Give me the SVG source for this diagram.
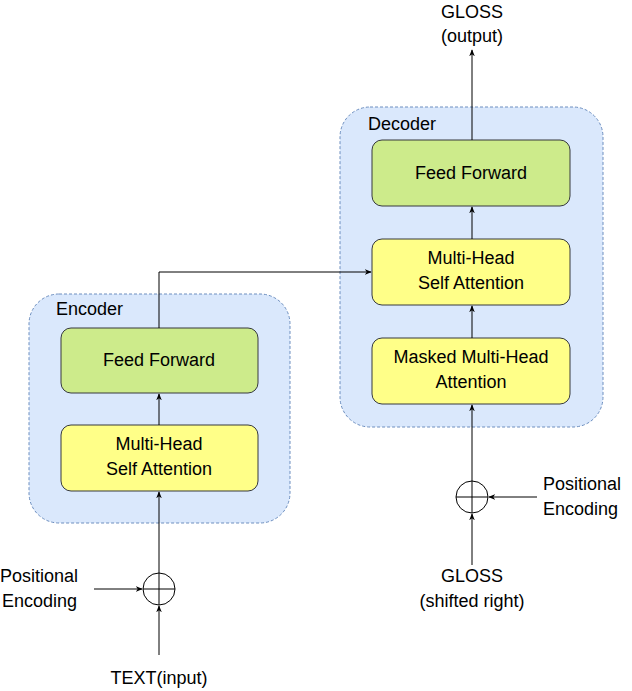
<svg xmlns="http://www.w3.org/2000/svg" width="632" height="691" viewBox="0 0 632 691">
<style>
text{font-family:"Liberation Sans",Arial,sans-serif;font-size:18px;fill:#000}
.c{text-anchor:middle}
.grp{fill:#dae8fc;stroke:#6c8ebf;stroke-dasharray:3 2;stroke-width:1}
.ff{fill:#cdeb8b;stroke:#36393d;stroke-width:1}
.at{fill:#ffff88;stroke:#36393d;stroke-width:1}
.ln{fill:none;stroke:#000;stroke-width:1;marker-end:url(#a)}
.sum{fill:#fff;stroke:#000;stroke-width:1}
</style>
<defs><marker id="a" viewBox="0 0 10 10" refX="9" refY="5" markerWidth="7" markerHeight="7" orient="auto"><path d="M0,1L10,5L0,9L3,5z" fill="#000"/></marker></defs>
<g id="encoder"><rect class="grp" x="29" y="294" width="261" height="229" rx="30"/><text x="56" y="315">Encoder</text></g>
<g id="decoder"><rect class="grp" x="340" y="107" width="263" height="320" rx="30"/><text x="368" y="130">Decoder</text></g>
<g id="enc-ff"><rect class="ff" x="61" y="328" width="197" height="65" rx="10"/><text class="c" x="159" y="366">Feed Forward</text></g>
<g id="enc-mhsa"><rect class="at" x="61" y="425" width="197" height="66" rx="10"/><text class="c" x="159" y="450">Multi-Head</text><text class="c" x="159" y="475">Self Attention</text></g>
<g id="dec-ff"><rect class="ff" x="372" y="140" width="198" height="66" rx="10"/><text class="c" x="471" y="179">Feed Forward</text></g>
<g id="dec-mhsa"><rect class="at" x="372" y="239" width="198" height="66" rx="10"/><text class="c" x="471" y="264">Multi-Head</text><text class="c" x="471" y="289">Self Attention</text></g>
<g id="dec-masked"><rect class="at" x="372" y="338" width="198" height="66" rx="10"/><text class="c" x="471" y="363">Masked Multi-Head</text><text class="c" x="471" y="388">Attention</text></g>
<g id="enc-sum"><circle class="sum" cx="159" cy="589" r="16"/><path d="M143,589H175M159,573V605" stroke="#000"/></g>
<g id="dec-sum"><circle class="sum" cx="472" cy="497" r="16"/><path d="M456,497H488M472,481V513" stroke="#000"/></g>
<g id="labels">
<text x="0" y="582">Positional</text><text x="2" y="607">Encoding</text>
<text class="c" x="159" y="684">TEXT(input)</text>
<text x="543" y="490">Positional</text><text x="543" y="515">Encoding</text>
<text class="c" x="472" y="582">GLOSS</text><text class="c" x="472" y="607">(shifted right)</text>
<text class="c" x="472" y="18">GLOSS</text><text class="c" x="472" y="42">(output)</text>
</g>
<g id="connectors">
<path class="ln" d="M159,655V606"/>
<path class="ln" d="M94,589H142"/>
<path class="ln" d="M159,573V492"/>
<path class="ln" d="M159,425V394"/>
<path class="ln" d="M159,328V272H371"/>
<path class="ln" d="M472,565V514"/>
<path class="ln" d="M537,497H489"/>
<path class="ln" d="M472,481V405"/>
<path class="ln" d="M472,338V306"/>
<path class="ln" d="M472,239V207"/>
<path class="ln" d="M472,140V50"/>
</g>
</svg>
